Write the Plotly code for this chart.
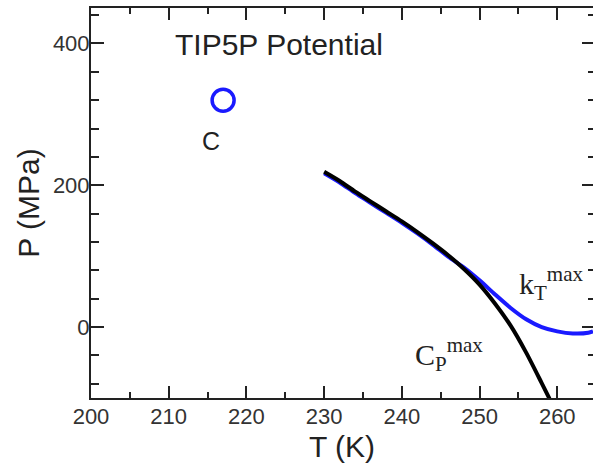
import plotly.graph_objects as go

# Temperature of the response-function maxima (K) and pressure (MPa)
T_cp = [230, 232, 234, 236, 238, 240, 242, 244, 246, 248, 250, 252, 254, 256, 258, 259]
P_cp = [219, 206, 191, 177, 163, 149, 134, 118, 101, 82, 60, 33, 2, -36, -79, -101]

T_kt = [230, 232, 234, 236, 238, 240, 242, 244, 246, 248, 250, 252, 254, 256, 258, 260, 262, 264, 264.6]
P_kt = [217, 204, 189, 175, 161, 147, 132, 116, 99, 84, 66, 46, 27, 11, 0, -6, -9, -8, -6]

# Liquid-liquid critical point
T_c = [217]
P_c = [320]

AX = "#222222"
BLUE = "#1a1aff"
SANS = "Liberation Sans, Arial, sans-serif"
SERIF = "Liberation Serif, Times New Roman, serif"

fig = go.Figure()

fig.add_trace(go.Scatter(
    x=T_kt, y=P_kt, mode="lines", line=dict(color=BLUE, width=4, shape="spline", smoothing=0.8),
    hoverinfo="skip", showlegend=False,
))
fig.add_trace(go.Scatter(
    x=T_c, y=P_c, mode="markers",
    marker=dict(symbol="circle-open", size=22, color=BLUE, line=dict(color=BLUE, width=3.5)),
    hoverinfo="skip", showlegend=False,
))
fig.add_trace(go.Scatter(
    x=T_cp, y=P_cp, mode="lines", line=dict(color="black", width=4, shape="spline", smoothing=0.8),
    yaxis="y2", hoverinfo="skip", showlegend=False,
))

y_range = [-100, 450]

fig.update_layout(
    width=593, height=468,
    margin=dict(l=91, r=0, t=8, b=70),
    plot_bgcolor="white", paper_bgcolor="white",
    xaxis=dict(
        range=[200, 264.6], tick0=200, dtick=10,
        ticks="inside", ticklen=12, tickwidth=2, tickcolor=AX,
        showline=True, linewidth=2, linecolor=AX, mirror="ticks",
        showgrid=False, zeroline=False,
        tickfont=dict(family=SANS, size=22, color="#333333"),
        ticklabelstandoff=-2,
        minor=dict(ticks="inside", tick0=200, dtick=5, ticklen=6, tickwidth=2,
                   tickcolor=AX, showgrid=False),
        title=dict(text="T (K)", font=dict(family=SANS, size=30, color=AX), standoff=8),
    ),
    yaxis=dict(
        range=y_range, tick0=0, dtick=200,
        ticks="inside", ticklen=13, tickwidth=2, tickcolor=AX,
        showline=True, linewidth=2, linecolor=AX, mirror=False,
        showgrid=False, zeroline=False,
        tickfont=dict(family=SANS, size=22, color="#333333"),
        ticklabelstandoff=-5,
        minor=dict(ticks="inside", tick0=0, dtick=40, ticklen=8, tickwidth=2,
                   tickcolor=AX, showgrid=False),
        title=dict(text="P (MPa)", font=dict(family=SANS, size=30, color=AX), standoff=4),
    ),
    yaxis2=dict(
        range=y_range, overlaying="y", side="right", anchor="x",
        tick0=0, dtick=200, ticks="inside", ticklen=11, tickwidth=2, tickcolor=AX,
        showticklabels=False, showline=False, showgrid=False, zeroline=False,
        minor=dict(ticks="inside", tick0=0, dtick=40, ticklen=5, tickwidth=2,
                   tickcolor=AX, showgrid=False),
    ),
    annotations=[
        dict(x=210.6, y=399, xref="x", yref="y", text="TIP5P Potential", showarrow=False,
             xanchor="left", yanchor="middle", font=dict(family=SANS, size=30, color=AX)),
        dict(x=215.45, y=262, xref="x", yref="y", text="C", showarrow=False,
             xanchor="center", yanchor="middle", font=dict(family=SANS, size=25, color=AX)),
        dict(x=241.4, y=-39, xref="x", yref="y", text="C<sub>P</sub><sup>max</sup>",
             showarrow=False, xanchor="left", yanchor="middle",
             font=dict(family=SERIF, size=30, color=AX)),
        dict(x=254.8, y=61, xref="x", yref="y", text="k<sub>T</sub><sup>max</sup>",
             showarrow=False, xanchor="left", yanchor="middle",
             font=dict(family=SERIF, size=30, color=AX)),
    ],
)

fig.write_html("out.html")
